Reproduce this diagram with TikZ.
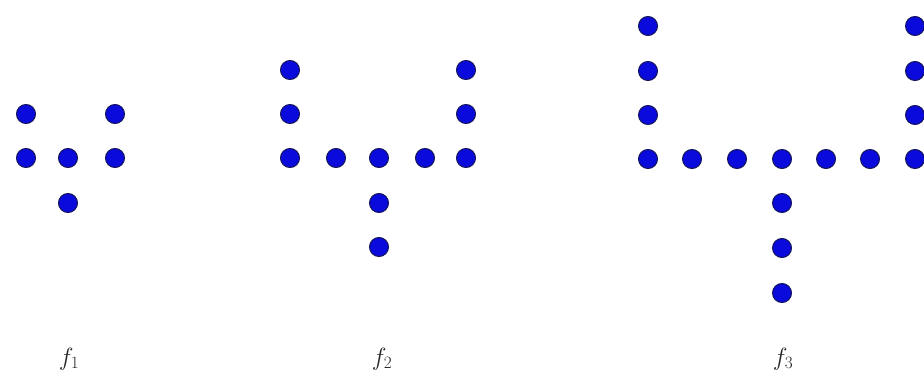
\documentclass[tikz,border=0pt]{standalone}
\begin{document}
\begin{tikzpicture}[x=1pt,y=-1pt,
  dot/.style={circle,inner sep=0pt,minimum size=19pt,fill={rgb,255:red,10;green,10;blue,220},draw={rgb,255:red,20;green,20;blue,90},line width=1pt},
  lab/.style={font=\fontsize{24}{28}\selectfont,text=black!85}]
\useasboundingbox (0,0) rectangle (924,385);
% f1
\node[dot] (a1) at (26,114) {};
\node[dot] (a2) at (115,114) {};
\node[dot] (a3) at (26,158) {};
\node[dot] (a4) at (68,158) {};
\node[dot] (a5) at (115,158) {};
\node[dot] (a6) at (68,203) {};
% f2
\node[dot] (b1) at (290,70) {};
\node[dot] (b2) at (290,114) {};
\node[dot] (b3) at (290,158) {};
\node[dot] (b4) at (466,70) {};
\node[dot] (b5) at (466,114) {};
\node[dot] (b6) at (466,158) {};
\node[dot] (b7) at (336,158) {};
\node[dot] (b8) at (379,158) {};
\node[dot] (b9) at (425,158) {};
\node[dot] (b10) at (379,203) {};
\node[dot] (b11) at (379,247) {};
% f3
\foreach \y [count=\i] in {26,71,115,159} {
  \node[dot] (cl\i) at (648,\y) {};
  \node[dot] (cr\i) at (915,\y) {};
}
\foreach \x [count=\i] in {692,737,782,826,870} {
  \node[dot] (ch\i) at (\x,159) {};
}
\foreach \y [count=\i] in {203,248,293} {
  \node[dot] (cv\i) at (782,\y) {};
}
% labels
\node[lab] (l1) at (69,359) {$f_{\mathrm{1}}$};
\node[lab] (l2) at (382,359) {$f_{\mathrm{2}}$};
\node[lab] (l3) at (783,359) {$f_{\mathrm{3}}$};
\end{tikzpicture}
\end{document}
